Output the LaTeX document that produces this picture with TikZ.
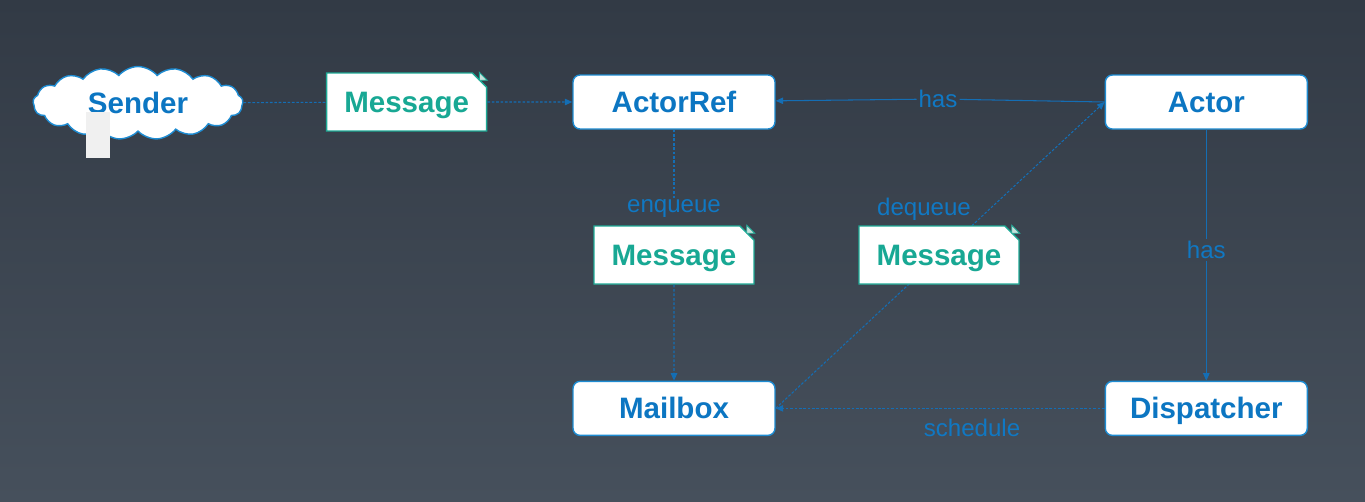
\documentclass[tikz,border=0pt]{standalone}
\usepackage{fontspec}
\setmainfont{Liberation Sans}
\usetikzlibrary{arrows.meta,positioning,calc,shapes.misc,shapes.symbols}
\definecolor{bgtop}{RGB}{50,58,69}
\definecolor{bgbot}{RGB}{70,80,92}
\definecolor{boxblue}{RGB}{12,118,194}
\definecolor{boxedge}{RGB}{30,140,210}
\definecolor{msgteal}{RGB}{24,168,148}
\definecolor{msgedge}{RGB}{30,170,150}
\definecolor{lblblue}{RGB}{16,120,195}
\definecolor{lineblue}{RGB}{20,110,180}
\definecolor{foldgrey}{RGB}{200,225,220}
\definecolor{patch}{RGB}{240,240,240}
\tikzset{
  box/.style  ={draw=boxedge,fill=white,rounded corners=4pt,line width=.8pt,
                minimum width=4.04cm,minimum height=1.08cm,text=boxblue,
                text height=12pt,text depth=0pt,
                font=\fontsize{16.8}{20}\selectfont\bfseries},
  msg/.style  ={chamfered rectangle,chamfered rectangle corners=north east,
                chamfered rectangle xsep=1.6mm,draw=msgedge,fill=white,
                line width=.8pt,minimum width=3.2cm,minimum height=1.16cm,
                text height=12pt,text depth=0pt,
                text=msgteal,font=\fontsize{16.8}{20}\selectfont\bfseries},
  cld/.style  ={cloud,cloud puffs=17,cloud puff arc=100,aspect=3,
                draw=boxedge,fill=white,line width=.8pt,
                minimum width=4.2cm,minimum height=1.46cm,
                text height=12pt,text depth=0pt,
                text=boxblue,font=\fontsize{16.8}{20}\selectfont\bfseries},
  lbl/.style  ={text=lblblue,inner sep=1pt,
                font=\fontsize{13.7}{16}\selectfont},
  dl/.style   ={draw=lineblue,line width=.6pt,dash pattern=on 1.5pt off 1pt},
  sl/.style   ={draw=lineblue,line width=.6pt},
  ar/.style   ={-{Triangle[length=1.5mm,width=1.3mm]}},
  foldc/.style={fill=foldgrey,draw=msgedge,line width=.5pt},
}
\newcommand{\fold}[1]{%
  \filldraw[foldc] ($(#1.north -| #1.east)+(-8,0)$) -- ($(#1.north -| #1.east)+(-8,8)$)
    -- ($(#1.north -| #1.east)+(0,8)$) -- cycle;}
\begin{document}
\begin{tikzpicture}[x=0.02cm,y=-0.02cm]
\shade[top color=bgtop,bottom color=bgbot] (0,0) rectangle (1365,501);
\useasboundingbox (0,0) rectangle (1365,501);
\node[cld] (snd) at (138,103) {Sender};
\fill[patch] (86,112) rectangle (110,158);
\node[box] (ref) at (674,102) {ActorRef};
\node[msg,left=1.7cm of ref] (m1) {Message};
\node[box,right=6.58cm of ref] (actor) {Actor};
\node[box,below=5.02cm of ref] (mbox) {Mailbox};
\node[box,below=5.02cm of actor] (disp) {Dispatcher};
\node[msg] (m2) at (674,255) {Message};
\node[lbl] (has1) at (938,99) {has};
\node[lbl] (enq) at (674,209) {enqueue};
\node[lbl] (deq) at (924,209) {dequeue};
\node[lbl,below=2.18cm of actor] (has2) {has};
\node[lbl] (sch) at (972,428) {schedule};
\draw[dl,ar] (mbox.east) -- (actor.west);
\node[msg] (m3) at (939,255) {Message};
\fold{m1} \fold{m2} \fold{m3}
\draw[dl] (snd) -- (m1);
\draw[dl,ar] (m1) -- (ref);
\draw[sl] (actor.west) -- (has1);
\draw[sl,ar] (has1) -- (ref);
\draw[dl] (ref) -- (enq);
\draw[dl,ar] (m2) -- (mbox);
\draw[sl] (actor) -- (has2);
\draw[sl,ar] (has2) -- (disp);
\draw[dl,ar] (disp) -- (mbox);
\end{tikzpicture}
\end{document}
